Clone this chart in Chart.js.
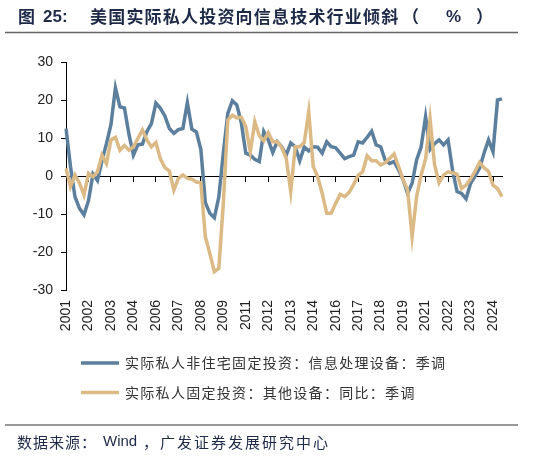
<!DOCTYPE html>
<html>
<head>
<meta charset="utf-8">
<script src="https://cdn.jsdelivr.net/npm/chart.js@4/dist/chart.umd.min.js"></script>
<style>
  html, body { margin: 0; padding: 0; background: #fff; }
  canvas { display: block; }
</style>
</head>
<body>
<canvas id="itChart" width="541" height="456"></canvas>
<script>
// Données trimestrielles, 2001T1 -> 2025T2
const years = [2001, 2002, 2003, 2004, 2005, 2006, 2007, 2008, 2009, 2010, 2011, 2012,
               2013, 2014, 2015, 2016, 2017, 2018, 2019, 2020, 2021, 2022, 2023, 2024, 2025];
const quarters = [];
years.forEach(y => ['Q1', 'Q2', 'Q3', 'Q4'].forEach(q => quarters.push(y + q)));
const labels = quarters.slice(0, 98);

// 实际私人非住宅固定投资：信息处理设备：季调
const infoEquip = [
  12.5, 2.5, -5.5, -8.5, -10.2, -6.5, 0.5, -1.2, 4, 8.5,
  13.5, 23.2, 18.2, 17.9, 11, 5.5, 8.2, 8.4, 11.7, 13.8,
  19.2, 17.8, 15.8, 12.5, 11.2, 12.2, 12.5, 19.3, 12.3, 11.6,
  7, -7, -9.8, -11, -5.5, 6, 16.5, 19.8, 18.7, 14,
  6, 5.5, 4.4, 3.8, 11.7, 9.5, 6.2, 9, 7.7, 5.5,
  8.7, 7.7, 4, 7.6, 6.6, 7.7, 7.6, 6, 9, 7.7,
  7.4, 6, 4.6, 5.1, 5.5, 9, 8.7, 10.2, 11.8, 8.2,
  7.7, 4.2, 3.3, 3.8, 1.6, -1, -4.6, -1.9, 4.2, 7.6,
  15.6, 7, 8.5, 9.5, 8.2, 9.5, 1.5, -4.1, -4.6, -6,
  -2, 0, 2, 6, 9.5, 6.4, 20, 20.3
];

// 实际私人固定投资：其他设备：同比：季调
const otherEquip = [
  2, -2.8, 0.3, -1.9, -5, 0.7, -0.2, 1.1, 5.5, 3.3,
  9.5, 10.2, 6.8, 8, 6.8, 7.7, 9.9, 12.1, 9.5, 7.7,
  8.8, 4.5, 2.2, 1.3, -3.7, -0.6, 0.3, -0.6, -0.8, -1.6,
  -1.8, -16, -20.4, -25.2, -24.3, -7.2, 14.7, 16, 15.3, 15.5,
  13, 6.4, 14.3, 10.6, 9.3, 11.4, 9, 9, 7.5, 4.6,
  -4.1, 7.7, 7.7, 8.8, 16.9, 2.5, -0.2, -4.6, -9.8, -9.8,
  -7.2, -4.8, -5.4, -4.3, -2.2, 0.2, 1.1, 5.3, 4, 4,
  2.9, 3.5, 4.6, 5.8, 2.5, -1, -3.7, -16, -5.4, 0.2,
  4.5, 15, 3, -1.8, 0.3, 1.1, 0.8, 0.5, -3.3, -2.4,
  -0.8, 1.2, 3.6, 2.2, 1.2, -2.4, -3.3, -5.4
];

const seriesNames = ['实际私人非住宅固定投资：信息处理设备：季调', '实际私人固定投资：其他设备：同比：季调'];
const seriesColors = ['#5b7f9c', '#dcba86'];
const yTicks = { min: -30, max: 30, step: 10 };
const labelEvery = 5;

const CJK = '"Noto Sans CJK SC", "Noto Sans", sans-serif';
const LATIN = '"Liberation Sans", Arial, sans-serif';

// morceaux de texte : [texte, x, police, espacement]
const titleParts = [
  ['图', 18, 'bold 17px ' + CJK, '0px'],
  ['25:', 43, 'bold 17px ' + LATIN, '0px'],
  ['美国实际私人投资向信息技术行业倾斜', 90, 'bold 17px ' + CJK, '1.2px'],
  ['（', 402, 'bold 17px ' + CJK, '0px'],
  ['%', 446, 'bold 17px ' + LATIN, '0px'],
  ['）', 476, 'bold 17px ' + CJK, '0px']
];
const sourceParts = [
  ['数据来源：', 17, '15px ' + CJK, '1px'],
  ['Wind', 103, '15px ' + LATIN, '0px'],
  ['，广发证券发展研究中心', 143, '15px ' + CJK, '2px']
];

function drawParts(ctx, parts, y) {
  parts.forEach(([text, x, font, spacing]) => {
    ctx.font = font;
    ctx.letterSpacing = spacing;
    ctx.fillText(text, x, y);
  });
}

// Titre, légende et source dessinés à la main
const decorPlugin = {
  id: 'decor',
  afterDraw(chart) {
    const ctx = chart.ctx;
    ctx.save();
    ctx.textBaseline = 'middle';

    // titre
    ctx.fillStyle = '#1e2a48';
    drawParts(ctx, titleParts, 17);

    ctx.strokeStyle = '#666';
    ctx.lineWidth = 1.5;
    ctx.beginPath();
    ctx.moveTo(5, 32.5);
    ctx.lineTo(518, 32.5);
    ctx.stroke();

    // légende
    ctx.font = '14px ' + CJK;
    ctx.letterSpacing = '1.3px';
    ctx.fillStyle = '#333';
    [363, 392.5].forEach((y, i) => {
      ctx.strokeStyle = seriesColors[i];
      ctx.lineWidth = 3.5;
      ctx.beginPath();
      ctx.moveTo(81, y);
      ctx.lineTo(119, y);
      ctx.stroke();
      ctx.fillText(seriesNames[i], 125, y);
    });

    // source
    ctx.strokeStyle = '#777';
    ctx.lineWidth = 1.5;
    ctx.beginPath();
    ctx.moveTo(5, 425);
    ctx.lineTo(518, 425);
    ctx.stroke();
    ctx.fillStyle = '#1e2a48';
    drawParts(ctx, sourceParts, 442);
    ctx.restore();
  }
};

new Chart(document.getElementById('itChart'), {
  type: 'line',
  data: {
    labels: labels,
    datasets: [{
      label: seriesNames[0],
      data: infoEquip,
      borderColor: seriesColors[0],
      borderWidth: 3.5,
      pointRadius: 0,
      tension: 0,
      order: 1
    }, {
      label: seriesNames[1],
      data: otherEquip,
      borderColor: seriesColors[1],
      borderWidth: 3.5,
      pointRadius: 0,
      tension: 0,
      order: 0
    }]
  },
  options: {
    responsive: false,
    animation: false,
    devicePixelRatio: 1,
    layout: {
      padding: { top: 62, right: 39, left: 0, bottom: 0 }
    },
    plugins: {
      legend: { display: false },
      tooltip: { enabled: false }
    },
    scales: {
      x: {
        type: 'category',
        position: 'bottom',
        offset: false,
        grid: { display: false },
        border: { display: false },
        ticks: {
          autoSkip: false,
          minRotation: 90,
          maxRotation: 90,
          padding: 2,
          color: '#222',
          font: { family: LATIN, size: 14 },
          callback: function (value, index) {
            return index % labelEvery === 0 ? this.getLabelForValue(value).slice(0, 4) : null;
          }
        },
        afterFit: (scale) => { scale.height = 166; }
      },
      zero: {
        type: 'category',
        axis: 'x',
        position: { y: 0 },
        offset: false,
        border: { display: true, color: '#000', width: 1 },
        grid: {
          drawOnChartArea: false,
          drawTicks: true,
          tickLength: 5,
          color: (c) => (c.index % labelEvery === 0 ? '#000' : 'rgba(0,0,0,0)')
        },
        ticks: { display: false, autoSkip: false }
      },
      y: {
        min: yTicks.min,
        max: yTicks.max,
        border: { display: true, color: '#000', width: 1 },
        grid: {
          drawOnChartArea: false,
          drawTicks: true,
          tickLength: 5,
          color: '#000'
        },
        ticks: {
          stepSize: yTicks.step,
          padding: 8,
          color: '#222',
          font: { family: LATIN, size: 14 }
        },
        afterFit: (scale) => { scale.width = 66; }
      }
    }
  },
  plugins: [decorPlugin]
});
</script>
</body>
</html>
